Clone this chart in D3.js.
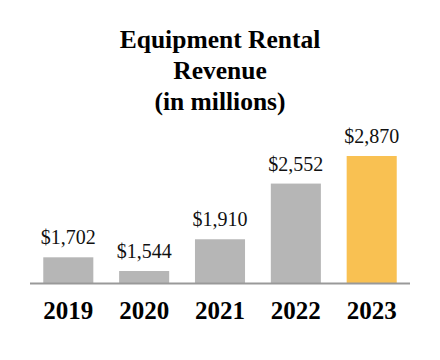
<!DOCTYPE html>
<html>
<head>
<meta charset="utf-8">
<script src="https://cdn.jsdelivr.net/npm/d3@7"></script>
<style>
  body { margin: 0; background: #fff; }
</style>
</head>
<body>
<svg id="chart"></svg>
<script>
// Data
const years = ["2019", "2020", "2021", "2022", "2023"];
const revenue = [1702, 1544, 1910, 2552, 2870];
const titleLines = ["Equipment Rental", "Revenue", "(in millions)"];

const svgWidth = 440;
const svgHeight = 360;
const baseY = 283.5;
const serif = "Liberation Serif, Times New Roman, serif";

const svg = d3.select("#chart")
  .attr("width", svgWidth)
  .attr("height", svgHeight);

// x-scale
const xScale = d3.scaleBand()
  .domain(years)
  .range([30, 410])
  .paddingInner(0.34)
  .paddingOuter(0.175);

// y-scale (axis does not start at zero in the original)
const yScale = d3.scaleLinear()
  .domain([1400, 2870])
  .range([baseY, 156]);

const data = years.map((y, i) => ({year: y, value: revenue[i]}));

// Title
svg.append("g")
  .selectAll("text")
  .data(titleLines)
  .join("text")
  .attr("x", 220)
  .attr("y", (d, i) => 48 + i * 31)
  .attr("text-anchor", "middle")
  .attr("font-family", serif)
  .attr("font-weight", "bold")
  .attr("font-size", "25.5px")
  .attr("fill", "#000")
  .text(d => d);

// Bars
svg.append("g")
  .selectAll("rect")
  .data(data)
  .join("rect")
  .attr("x", d => xScale(d.year))
  .attr("y", d => yScale(d.value))
  .attr("width", xScale.bandwidth())
  .attr("height", d => baseY - yScale(d.value))
  .attr("fill", (d, i) => i === data.length - 1 ? "#f9c152" : "#b6b6b6");

// Value labels
svg.append("g")
  .selectAll("text")
  .data(data)
  .join("text")
  .attr("x", d => xScale(d.year) + xScale.bandwidth() / 2)
  .attr("y", d => yScale(d.value) - 13)
  .attr("text-anchor", "middle")
  .attr("font-family", serif)
  .attr("font-size", "20px")
  .attr("fill", "#111")
  .text(d => "$" + d3.format(",")(d.value));

// Baseline
svg.append("line")
  .attr("x1", 30)
  .attr("x2", 410)
  .attr("y1", baseY)
  .attr("y2", baseY)
  .attr("stroke", "#999")
  .attr("stroke-width", 2);

// x-axis labels
const xAxis = d3.axisBottom(xScale).tickSize(0).tickPadding(0);
svg.append("g")
  .attr("transform", `translate(0, ${baseY})`)
  .call(xAxis)
  .call(g => g.select(".domain").remove())
  .call(g => g.selectAll("text")
    .attr("dy", null)
    .attr("y", 35.5)
    .attr("font-family", serif)
    .attr("font-weight", "bold")
    .attr("font-size", "25px")
    .attr("fill", "#000"));
</script>
</body>
</html>
